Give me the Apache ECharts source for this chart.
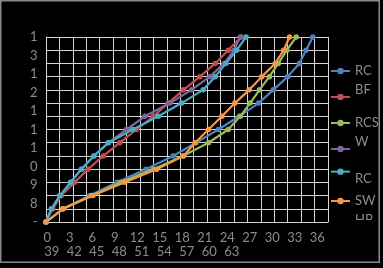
<!DOCTYPE html>
<html><head><meta charset="utf-8">
<script src="https://cdn.jsdelivr.net/npm/echarts@6/dist/echarts.min.js"></script>
<style>html,body{margin:0;padding:0;background:#000}#c{width:383px;height:268px}</style>
</head><body><div id="c"></div>
<script>
// Levels (vertical grid units) shared by all series
const levels = [0, 1, 2, 3, 4, 5, 6, 7, 8, 9, 10, 11, 12, 13, 14];
// Horizontal positions of each series at each level
const blueRCBF   = [0, 3.8, 9.8, 15.9, 22.3, 28.4, 33.5, 38.5, 43.2, 47.5, 50.8, 54.0, 56.6, 58.1, 59.6];
const redSeries  = [0, 1.5, 3.4, 6.4, 9.4, 12.8, 16.5, 20.2, 24.0, 27.3, 30.7, 34.4, 37.8, 40.7, 43.6];
const greenRCSW  = [0, 3.8, 10.2, 16.7, 24.0, 30.6, 36.3, 40.7, 43.4, 45.6, 47.7, 49.9, 51.9, 53.8, 55.9];
const purpleW    = [0, 1.2, 3.1, 5.5, 7.9, 10.7, 14.0, 18.0, 22.1, 27.7, 32.5, 36.6, 39.8, 42.0, 43.4];
const cyanRC     = [0, 1.2, 3.1, 5.5, 7.9, 10.7, 13.9, 19.4, 25.1, 30.3, 35.1, 37.8, 40.2, 42.6, 44.7];
const orangeSW   = [0, 3.8, 10.5, 17.6, 24.7, 30.7, 33.3, 36.3, 39.3, 42.2, 45.4, 48.2, 51.2, 53.1, 54.4];

const seriesNames = ['RC BF', 'RC BF HB', 'RCS W', 'RCS W HB', 'RC SW', 'RC SW HB'];
const seriesColors = ['#4F81BD', '#C0504D', '#9BBB59', '#8064A2', '#4BACC6', '#F79646'];
const seriesValues = [blueRCBF, redSeries, greenRCSW, purpleW, cyanRC, orangeSW];
const legendTexts = [
  '{s| }\n{n|RC}\n{n|BF}',
  '{s| }\n{n| }\n{n| }',
  '{s| }\n{n|RCS}\n{n|W}',
  '{s| }\n{n| }\n{n| }',
  '{u| }\n{n|RC}\n{d| }',
  '{s| }\n{n|SW}\n{h|HB}'
];

// Tick label texts
const xTickLabels = ['0','3','6','9','12','15','18','21','24','27','30','33','36','39','42','45','48','51','54','57','60','63'];
const xFirstRowCount = 13;
const yTickLabels = ['-','8','9','0','1','1','1','2','1','3','1'];

const FONT = 'Lato, "Liberation Sans", sans-serif';
const TXT = '#8c8c8c';
const GRIDC = '#d6d6d6';

const chart = echarts.init(document.getElementById('c'), null, {renderer: 'canvas'});
const hiddenAxis = {axisLine:{show:false}, axisTick:{show:false}, splitLine:{show:false}};

chart.setOption({
  backgroundColor: '#000',
  animation: false,
  textStyle: {fontFamily: FONT},
  grid: [
    {left: 46, top: 37, width: 282, height: 185},
    {left: 47.3, top: 225, width: 270, height: 1},
    {left: 51.7, top: 239.5, width: 180, height: 1}
  ],
  xAxis: [
    {type: 'value', gridIndex: 0, min: 0, max: 63, interval: 3,
     axisLine: {show: true, lineStyle: {color: GRIDC, width: 1}},
     axisTick: {show: false}, axisLabel: {show: false},
     splitLine: {show: true, lineStyle: {color: GRIDC, width: 1}}},
    Object.assign({type: 'value', gridIndex: 1, min: 0, max: xFirstRowCount - 1, interval: 1,
     axisLabel: {show: true, margin: 5, color: TXT, fontSize: 13, fontFamily: FONT,
       formatter: v => xTickLabels[v]}}, hiddenAxis),
    Object.assign({type: 'value', gridIndex: 2, min: 0, max: xTickLabels.length - xFirstRowCount - 1, interval: 1,
     axisLabel: {show: true, margin: 5, color: TXT, fontSize: 13, fontFamily: FONT,
       formatter: v => xTickLabels[xFirstRowCount + v]}}, hiddenAxis)
  ],
  yAxis: [
    {type: 'value', gridIndex: 0, min: 0, max: 14, interval: 1,
     axisLine: {show: true, lineStyle: {color: GRIDC, width: 1}},
     axisTick: {show: false}, axisLabel: {show: false},
     splitLine: {show: true, lineStyle: {color: GRIDC, width: 1}}},
    Object.assign({type: 'value', gridIndex: 0, min: 0, max: yTickLabels.length - 1, interval: 1, position: 'left',
     axisLabel: {show: true, margin: 8.5, color: TXT, fontSize: 13, fontFamily: FONT,
       padding: [3, 0, 0, 0],
       formatter: v => yTickLabels[v]}}, hiddenAxis),
    Object.assign({type: 'value', gridIndex: 1, min: 0, max: 1, axisLabel: {show: false}}, hiddenAxis),
    Object.assign({type: 'value', gridIndex: 2, min: 0, max: 1, axisLabel: {show: false}}, hiddenAxis)
  ],
  legend: {
    orient: 'vertical', left: 330, top: 45.5, padding: 0, itemGap: -25,
    itemWidth: 19, itemHeight: 8,
    data: seriesNames,
    formatter: name => legendTexts[seriesNames.indexOf(name)],
    textStyle: {color: TXT, fontSize: 13, fontFamily: FONT,
      rich: {
        s: {lineHeight: 19, fontSize: 13, color: TXT, fontFamily: FONT},
        n: {lineHeight: 19, fontSize: 13, color: TXT, fontFamily: FONT},
        h: {lineHeight: 19, fontSize: 13, color: TXT, fontFamily: FONT},
        u: {lineHeight: 25.7, fontSize: 13, color: TXT, fontFamily: FONT},
        d: {lineHeight: 12.3, fontSize: 13, color: TXT, fontFamily: FONT}
      }}
  },
  series: seriesNames.map((nm, i) => ({
    name: nm, type: 'line', xAxisIndex: 0, yAxisIndex: 0,
    data: seriesValues[i].map((x, k) => [x, levels[k]]),
    symbol: 'circle', symbolSize: 5.5,
    lineStyle: {width: 2.2, color: seriesColors[i]},
    itemStyle: {color: seriesColors[i]},
    z: 2 + i
  })),
  graphic: [
    {type: 'rect', z: 100, silent: true, shape: {x: 350, y: 220, width: 28, height: 41},
     style: {fill: '#000'}},
    {type: 'rect', z: 100, silent: true, shape: {x: 0.75, y: 0.75, width: 378.5, height: 261.5},
     style: {fill: null, stroke: '#898989', lineWidth: 1.5}}
  ]
});
</script></body></html>
